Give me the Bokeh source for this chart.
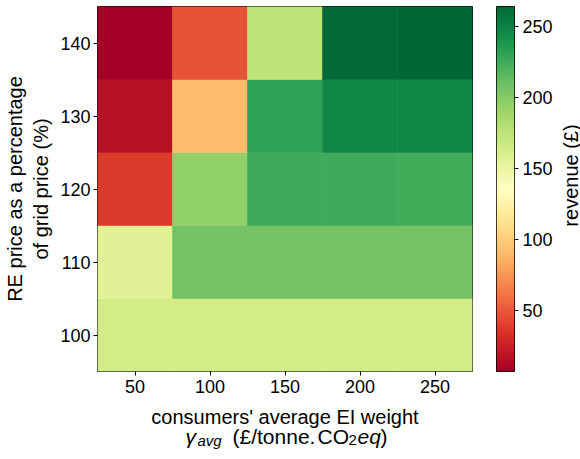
import numpy as np
from bokeh.plotting import figure
from bokeh.layouts import row, column
from bokeh.models import ColumnDataSource, LinearColorMapper, FixedTicker
from bokeh.core.properties import value
from bokeh.embed import file_html
from bokeh.resources import INLINE

# ---- data ----
ei_weight = [50, 100, 150, 200, 250]          # x categories
re_price = [100, 110, 120, 130, 140]          # y categories
revenue_100 = [164, 164, 164, 164, 164]
revenue_110 = [156, 207, 207, 207, 207]
revenue_120 = [38, 195, 225, 225, 224]
revenue_130 = [17, 92, 231, 246, 246]
revenue_140 = [7, 48, 174, 262, 264]
cbar_ticks = [50, 100, 150, 200, 250]
vmin, vmax = 7, 264

x_label_1 = "consumers' average EI weight"
y_label = "RE price as a percentage\nof grid price (%)"
cbar_label = "revenue (£)"

rows = [revenue_100, revenue_110, revenue_120, revenue_130, revenue_140]
xs, ys, vs = [], [], []
for yi, r in zip(re_price, rows):
    for xi, v in zip(ei_weight, r):
        xs.append(xi); ys.append(yi); vs.append(v)
src = ColumnDataSource(dict(x=xs, y=ys, v=vs))

anchors = ["#a50026", "#d73027", "#f46d43", "#fdae61", "#fee08b", "#ffffbf",
           "#d9ef8b", "#a6d96a", "#66bd63", "#1a9850", "#006837"]
rgb = np.array([[int(c[i:i+2], 16) for i in (1, 3, 5)] for c in anchors], float)
t = np.linspace(0, 1, 256)
pos = np.linspace(0, 1, len(anchors))
palette = ["#%02x%02x%02x" % tuple(int(round(np.interp(tt, pos, rgb[:, k]))) for k in range(3)) for tt in t]
mapper = LinearColorMapper(palette=palette, low=vmin, high=vmax)

FONT = "Liberation Sans"
FW, FH = 375, 365
TOP, BOT = 6, 30
BL, GAP = 97, 24
CBW, CBR = 18, 44
TFW = 22
BFH = 50


def base_fig(**kw):
    f = figure(output_backend="svg", toolbar_location=None, **kw)
    f.grid.visible = False
    f.background_fill_color = "white"
    f.border_fill_color = "white"
    return f


# ---- main heatmap ----
p = base_fig(x_range=(25, 275), y_range=(95, 145), frame_width=FW, frame_height=FH,
             min_border_left=BL, min_border_right=GAP, min_border_top=TOP, min_border_bottom=BOT)
cell_color = {"field": "v", "transform": mapper}
p.rect(x="x", y="y", width=50, height=10, source=src,
       fill_color=cell_color, line_color=cell_color, line_width=0.6)
p.outline_line_color = "black"
for ax in (p.xaxis, p.yaxis):
    ax.axis_line_color = None
    ax.major_tick_line_color = "black"
    ax.major_tick_out = 4
    ax.major_tick_in = 0
    ax.minor_tick_line_color = None
    ax.major_label_text_font = FONT
    ax.major_label_text_font_size = "18px"
    ax.major_label_text_color = "black"
p.xaxis.ticker = FixedTicker(ticks=ei_weight)
p.yaxis.ticker = FixedTicker(ticks=re_price)
p.xaxis.major_label_standoff = 4
p.yaxis.major_label_standoff = 3
p.yaxis.axis_label = y_label
p.yaxis.axis_label_text_font = FONT
p.yaxis.axis_label_text_font_size = "20px"
p.yaxis.axis_label_text_font_style = "normal"
p.yaxis.axis_label_text_color = "black"
p.yaxis.axis_label_standoff = 5

# ---- colour bar ----
cbf = base_fig(x_range=(0, 1), y_range=(vmin, vmax), frame_width=CBW, frame_height=FH,
               x_axis_location=None, y_axis_location="right",
               min_border_left=0, min_border_right=CBR, min_border_top=TOP, min_border_bottom=BOT)
grad = np.linspace(vmin, vmax, 256).reshape(-1, 1)
cbf.image(image=[grad], x=0, y=vmin, dw=1, dh=vmax - vmin, color_mapper=mapper)
cbf.outline_line_color = "black"
cax = cbf.yaxis[0]
cax.ticker = FixedTicker(ticks=cbar_ticks)
cax.axis_line_color = None
cax.major_tick_line_color = "black"
cax.major_tick_out = 4
cax.major_tick_in = 0
cax.minor_tick_line_color = None
cax.major_label_text_font = FONT
cax.major_label_text_font_size = "18px"
cax.major_label_text_color = "black"
cax.major_label_standoff = 4

# ---- colour bar label ----
tf = base_fig(x_range=(0, TFW), y_range=(0, FH), frame_width=TFW, frame_height=FH,
              x_axis_location=None, y_axis_location=None,
              min_border_left=0, min_border_right=0, min_border_top=TOP, min_border_bottom=BOT)
tf.outline_line_color = None
tf.text(x=[12], y=[196], text=[cbar_label], angle=np.pi / 2, text_align="center",
        text_baseline="middle", text_font=value(FONT), text_font_size="20px", text_color="black")

# ---- x-axis label (two lines, second with subscripts) ----
BW = BL + FW + GAP
bf = base_fig(x_range=(0, BW), y_range=(0, BFH), frame_width=BW, frame_height=BFH,
              x_axis_location=None, y_axis_location=None,
              min_border_left=0, min_border_right=0, min_border_top=0, min_border_bottom=0)
bf.outline_line_color = None
bf.text(x=[BL + FW / 2], y=[BFH - 15], text=[x_label_1], text_align="center",
        text_baseline="alphabetic", text_font=value(FONT), text_font_size="20px",
        text_color="black")
L2, S2 = BFH - 35, BFH - 38.5
line2 = ColumnDataSource(dict(
    x=[185, 197, 232, 317, 348, 357, 380],
    y=[L2, S2, L2, L2, S2, L2, L2],
    text=["γ", "avg", "(£/tonne.", "CO", "2", "eq", ")"],
    size=["21px", "15px", "21px", "21px", "15px", "21px", "21px"],
    style=["italic", "italic", "normal", "normal", "normal", "italic", "normal"],
))
bf.text(x="x", y="y", text="text", source=line2, text_align="left", text_baseline="alphabetic",
        text_font=value(FONT), text_font_size="size", text_font_style="style", text_color="black")

layout = column(row(p, cbf, tf, spacing=0), bf, spacing=0)
open("out.html", "w").write(file_html(layout, INLINE))
